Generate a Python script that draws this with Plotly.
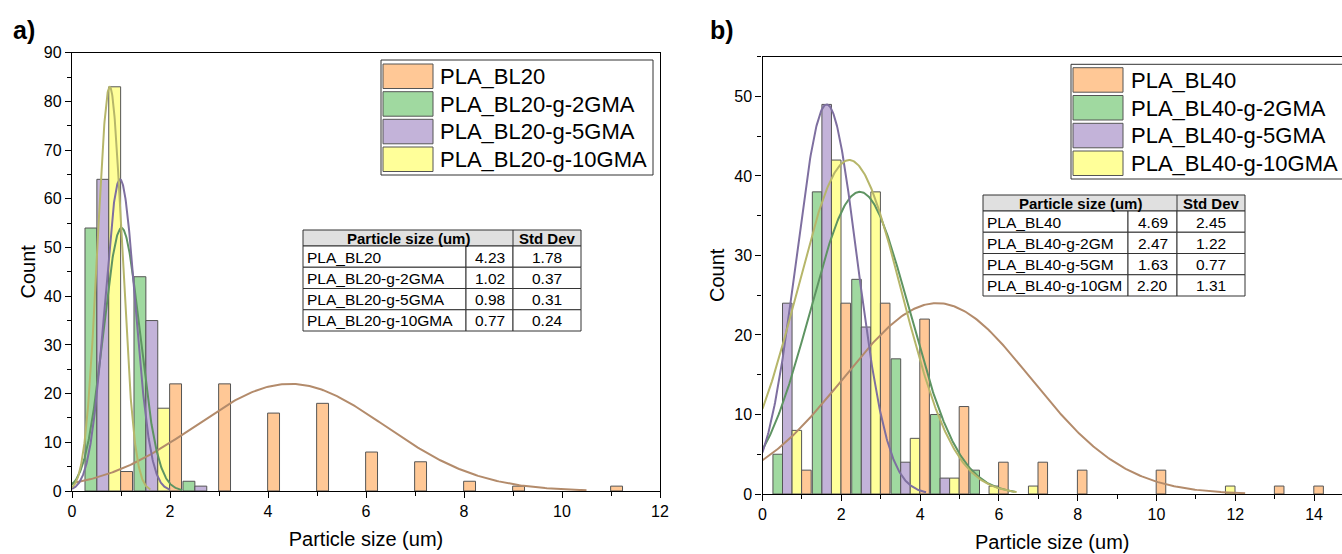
import numpy as np
import plotly.graph_objects as go

W, H = 1342, 554
FONT = "Liberation Sans, Arial, sans-serif"

# ---------------- data: panel a ----------------
bins_a = [0.75, 1.75, 2.75, 3.75, 4.75, 5.75, 6.75, 7.75, 8.75, 9.75, 10.75]
bl20 = [4, 22, 22, 16, 18, 8, 6, 2, 1, 0, 1]
bl20_2gma = [54, 44, 2, 0, 0, 0, 0, 0, 0, 0, 0]
bl20_5gma = [64, 35, 1, 0, 0, 0, 0, 0, 0, 0, 0]
bl20_10gma = [83, 17, 0, 0, 0, 0, 0, 0, 0, 0, 0]
names_a = ["PLA_BL20", "PLA_BL20-g-2GMA", "PLA_BL20-g-5GMA", "PLA_BL20-g-10GMA"]
# gaussian fit curves: centre, sigma, peak height, x end
fit_centre_a = [4.45, 1.01, 0.98, 0.77]
fit_sigma_a = [1.94, 0.37, 0.31, 0.25]
fit_peak_a = [22, 54, 64, 83]
fit_xend_a = [10.5, 2.25, 2.0, 1.6]
table_names_a = ["PLA_BL20", "PLA_BL20-g-2GMA", "PLA_BL20-g-5GMA", "PLA_BL20-g-10GMA"]
table_mean_a = ["4.23", "1.02", "0.98", "0.77"]
table_std_a = ["1.78", "0.37", "0.31", "0.24"]

# ---------------- data: panel b ----------------
bins_b = [0.75, 1.75, 2.75, 3.75, 4.75, 5.75, 6.75, 7.75, 8.75, 9.75, 10.75, 11.75, 12.75, 13.75]
bl40 = [3, 24, 24, 22, 11, 4, 4, 3, 0, 3, 0, 0, 1, 1]
bl40_2gma = [5, 38, 27, 17, 10, 3, 0, 0, 0, 0, 0, 0, 0, 0]
bl40_5gma = [24, 49, 21, 4, 2, 0, 0, 0, 0, 0, 0, 0, 0, 0]
bl40_10gma = [8, 42, 38, 7, 2, 1, 1, 0, 0, 0, 0, 1, 0, 0]
names_b = ["PLA_BL40", "PLA_BL40-g-2GMA", "PLA_BL40-g-5GMA", "PLA_BL40-g-10GMA"]
fit_centre_b = [4.43, 2.47, 1.63, 2.2]
fit_sigma_b = [2.38, 1.26, 0.77, 1.33]
fit_peak_b = [24, 38, 49, 42]
fit_xend_b = [12.25, 6.4, 4.15, 6.45]
table_names_b = ["PLA_BL40", "PLA_BL40-g-2GM", "PLA_BL40-g-5GM", "PLA_BL40-g-10GM"]
table_mean_b = ["4.69", "2.47", "1.63", "2.20"]
table_std_b = ["2.45", "1.22", "0.77", "1.31"]

# ---------------- styles ----------------
fills = ["#FFC896", "#A0D9A0", "#C3B3D9", "#FFFF99"]
curve_cols = ["#B38B6B", "#5E9462", "#7E6FA0", "#B6B66A"]
bar_line = "#555555"


def px(x):
    return x / W


def py(y):
    return 1 - y / H


def nz(v):
    return [None if c == 0 else c for c in v]


fig = go.Figure()

panels = [
    dict(xa="x", ya="y", bins=bins_a, series=[bl20, bl20_2gma, bl20_5gma, bl20_10gma],
         c=fit_centre_a, s=fit_sigma_a, p=fit_peak_a, e=fit_xend_a, names=names_a),
    dict(xa="x2", ya="y2", bins=bins_b, series=[bl40, bl40_2gma, bl40_5gma, bl40_10gma],
         c=fit_centre_b, s=fit_sigma_b, p=fit_peak_b, e=fit_xend_b, names=names_b),
]

for pnl in panels:
    # group order left->right: 2GMA, 5GMA, 10GMA, plain
    for idx in [1, 2, 3, 0]:
        fig.add_trace(go.Bar(
            x=pnl["bins"], y=nz(pnl["series"][idx]), name=pnl["names"][idx],
            marker=dict(color=fills[idx], line=dict(color=bar_line, width=1)),
            xaxis=pnl["xa"], yaxis=pnl["ya"], showlegend=False))
    for idx in [0, 1, 2, 3]:
        xs = np.linspace(0, pnl["e"][idx], 300)
        ys = pnl["p"][idx] * np.exp(-(xs - pnl["c"][idx]) ** 2 / (2 * pnl["s"][idx] ** 2))
        fig.add_trace(go.Scatter(
            x=xs, y=ys, mode="lines", line=dict(color=curve_cols[idx], width=2),
            xaxis=pnl["xa"], yaxis=pnl["ya"], showlegend=False, hoverinfo="skip"))

axis_common = dict(showline=True, linecolor="black", linewidth=1.3, showgrid=False,
                   zeroline=False, ticks="outside", ticklen=6, tickwidth=1.2, automargin=False,
                   tickcolor="black", tickfont=dict(size=16, color="black", family=FONT))

fig.update_layout(
    width=W, height=H, margin=dict(l=0, r=0, t=0, b=0, autoexpand=False),
    paper_bgcolor="white", plot_bgcolor="white",
    barmode="group", bargap=0.03, bargroupgap=0,
    font=dict(family=FONT, color="black"),
    xaxis=dict(domain=[px(72), px(660)], range=[0, 12], tick0=0, dtick=2, mirror=True,
               minor=dict(dtick=1, ticks="outside", ticklen=4, tickcolor="black"),
               title=dict(text="Particle size (um)", font=dict(size=20), standoff=12),
               anchor="y", **axis_common),
    yaxis=dict(domain=[py(491), py(52.7)], range=[0, 90], tick0=0, dtick=10, mirror=True,
               minor=dict(dtick=5, ticks="outside", ticklen=4, tickcolor="black"),
               title=dict(text="Count", font=dict(size=20), standoff=2),
               anchor="x", **axis_common),
    xaxis2=dict(domain=[px(762.5), 1.0], range=[0, (W - 762.5) / 39.4], tick0=0, dtick=2, mirror=True,
                minor=dict(dtick=1, ticks="outside", ticklen=4, tickcolor="black"),
                title=dict(text="Particle size (um)", font=dict(size=20), standoff=12),
                anchor="y2", **axis_common),
    yaxis2=dict(domain=[py(494), py(56.7)], range=[0, 55], tick0=0, dtick=10, mirror=False,
                minor=dict(dtick=5, ticks="outside", ticklen=4, tickcolor="black"),
                title=dict(text="Count", font=dict(size=20), standoff=4),
                anchor="x2", **axis_common),
)

shapes = []
annots = []

# panel labels
annots.append(dict(text="<b>a)</b>", x=px(24), y=py(30), xref="paper", yref="paper",
                   showarrow=False, font=dict(size=25, color="black"), xanchor="center", yanchor="middle"))
annots.append(dict(text="<b>b)</b>", x=px(722), y=py(30), xref="paper", yref="paper",
                   showarrow=False, font=dict(size=25, color="black"), xanchor="center", yanchor="middle"))


def legend(names, left, top, bottom, right, sw_x0, sw_tops, text_x):
    shapes.append(dict(type="rect", xref="paper", yref="paper", x0=px(left), x1=px(right),
                       y0=py(bottom), y1=py(top), line=dict(color="#333333", width=1),
                       fillcolor="white", layer="above"))
    for i, nm in enumerate(names):
        t = sw_tops[i]
        shapes.append(dict(type="rect", xref="paper", yref="paper", x0=px(sw_x0), x1=px(sw_x0 + 50),
                           y0=py(t + 24.5), y1=py(t), line=dict(color="#555555", width=1),
                           fillcolor=fills[i], layer="above"))
        annots.append(dict(text=nm, x=px(text_x), y=py(t + 12.5), xref="paper", yref="paper",
                           showarrow=False, xanchor="left", yanchor="middle",
                           font=dict(size=22, color="black")))


legend(names_a, 381, 60, 175, 653, 383, [64, 91.7, 119.3, 147], 438)
legend(names_b, 1071, 64.3, 179, 1360, 1073, [67.7, 95.5, 123.3, 151], 1129)


def table(names, means, stds, left, c1, c2, right, top, hdr_bot, row_h):
    shapes.append(dict(type="rect", xref="paper", yref="paper", x0=px(left), x1=px(right),
                       y0=py(hdr_bot), y1=py(top), line=dict(color="#333333", width=1),
                       fillcolor="#E0E0E0", layer="above"))
    shapes.append(dict(type="line", xref="paper", yref="paper", x0=px(c2), x1=px(c2),
                       y0=py(hdr_bot), y1=py(top), line=dict(color="#333333", width=1), layer="above"))
    annots.append(dict(text="<b>Particle size (um)</b>", x=px((left + c2) / 2), y=py((top + hdr_bot) / 2 + 0.5),
                       xref="paper", yref="paper", showarrow=False, xanchor="center", yanchor="middle",
                       font=dict(size=15, color="black")))
    annots.append(dict(text="<b>Std Dev</b>", x=px((c2 + right) / 2), y=py((top + hdr_bot) / 2 + 0.5),
                       xref="paper", yref="paper", showarrow=False, xanchor="center", yanchor="middle",
                       font=dict(size=15, color="black")))
    for i in range(len(names)):
        y0 = hdr_bot + i * row_h
        y1 = y0 + row_h
        for a, b in [(left, c1), (c1, c2), (c2, right)]:
            shapes.append(dict(type="rect", xref="paper", yref="paper", x0=px(a), x1=px(b),
                               y0=py(y1), y1=py(y0), line=dict(color="#333333", width=1),
                               fillcolor="white", layer="above"))
        ym = py((y0 + y1) / 2 + 0.5)
        annots.append(dict(text=names[i], x=px(left + 2), y=ym, xref="paper", yref="paper",
                           showarrow=False, xanchor="left", yanchor="middle",
                           font=dict(size=15.5, color="black")))
        annots.append(dict(text=means[i], x=px((c1 + c2) / 2), y=ym, xref="paper", yref="paper",
                           showarrow=False, xanchor="center", yanchor="middle",
                           font=dict(size=15.5, color="black")))
        annots.append(dict(text=stds[i], x=px((c2 + right) / 2), y=ym, xref="paper", yref="paper",
                           showarrow=False, xanchor="center", yanchor="middle",
                           font=dict(size=15.5, color="black")))


table(table_names_a, table_mean_a, table_std_a, 303, 466, 513, 581, 230, 246, 21.25)
table(table_names_b, table_mean_b, table_std_b, 983, 1128, 1177, 1245, 195, 211, 21.25)

fig.update_layout(shapes=shapes, annotations=annots)
fig.write_html("out.html", config={"displayModeBar": False},
               post_script="document.body.style.margin='0';document.body.style.padding='0';"
                           "document.body.style.overflow='hidden';")
